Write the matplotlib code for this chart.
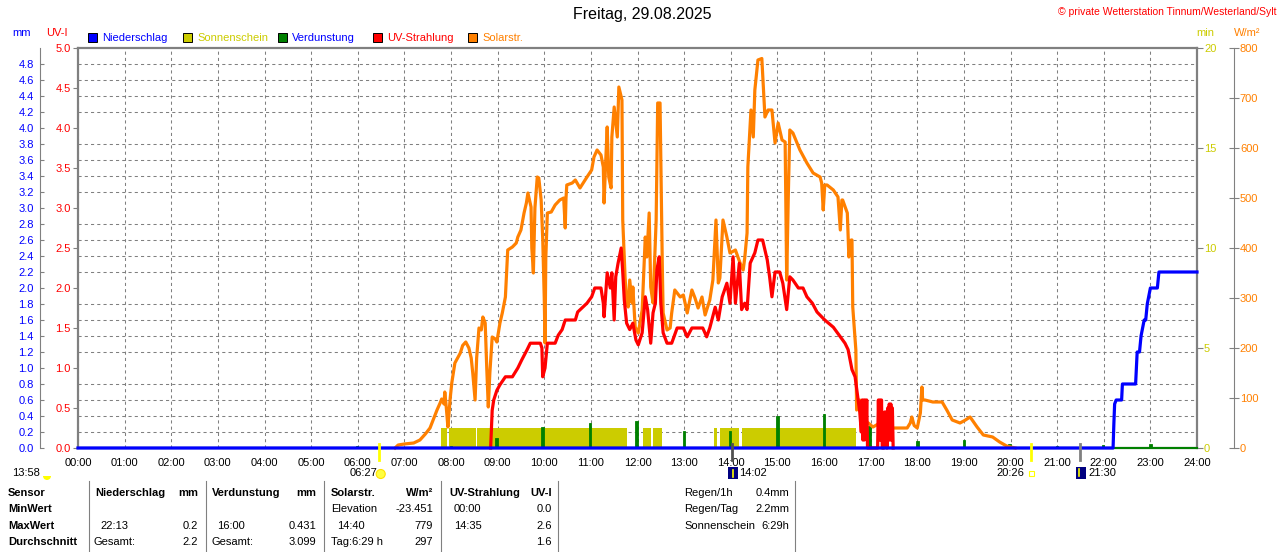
import matplotlib
matplotlib.use("Agg")
import matplotlib.pyplot as plt
import matplotlib.transforms as mtransforms
from matplotlib.patches import Rectangle, Circle, Wedge
from matplotlib.lines import Line2D
import numpy as np

plt.rcParams['font.family'] = ['Liberation Sans', 'DejaVu Sans']
plt.rcParams['font.size'] = 8

W, H = 1280, 552
X0, X1, Y0, Y1 = 78, 1197, 48, 448   # plot frame in pixels

GRAY = '#808080'
C_RAIN = '#0000ff'
C_SUN = '#cccc00'
C_EVAP = '#008000'
C_UV = '#ff0000'
C_SOL = '#ff8000'

# ---------------- data (time in minutes after midnight) ----------------
hour_ticks = list(range(25))
hour_labels = ['%02d:00' % h for h in hour_ticks]

# solar radiation W/m2
solar = [(408, 0), (412, 6), (420, 8), (432, 10), (440, 16), (447, 28), (453, 40), (458, 60),
         (462, 76), (466, 90), (468, 98), (471, 88), (472, 112), (474, 80), (476, 42), (479, 100),
         (481, 130), (485, 170), (492, 190), (495, 205), (499, 212), (503, 200), (506, 180),
         (508, 150), (511, 96), (513, 180), (516, 240), (519, 236), (521, 262), (524, 250),
         (526, 160), (528, 82), (530, 150), (533, 222), (537, 218), (539, 212), (543, 250),
         (546, 270), (550, 302), (553, 396), (559, 402), (564, 410), (566, 422), (570, 436),
         (574, 470), (577, 490), (579, 510), (583, 482), (584, 400), (586, 350), (587, 420),
         (588, 480), (591, 542), (593, 540), (596, 496), (598, 420), (600, 300), (601, 210),
         (602, 380), (604, 470), (609, 472), (614, 486), (620, 496), (625, 500), (627, 440),
         (628, 500), (629, 526), (636, 530), (640, 536), (646, 520), (655, 542), (661, 556),
         (664, 582), (668, 596), (673, 586), (676, 562), (677, 490), (679, 570), (681, 642),
         (683, 542), (686, 520), (687, 622), (690, 682), (694, 622), (696, 722), (700, 696),
         (701, 456), (704, 342), (706, 290), (708, 282), (710, 336), (713, 290), (714, 322),
         (717, 242), (721, 230), (726, 276), (730, 422), (732, 382), (735, 470), (737, 322),
         (740, 290), (744, 456), (746, 690), (749, 690), (752, 356), (753, 270), (758, 236),
         (762, 240), (764, 270), (768, 316), (775, 302), (779, 306), (784, 270), (790, 316),
         (794, 300), (798, 280), (803, 302), (807, 266), (813, 296), (817, 336), (821, 456),
         (824, 330), (826, 340), (830, 456), (835, 422), (839, 390), (846, 396), (852, 370),
         (856, 356), (858, 380), (861, 430), (862, 562), (866, 676), (869, 622), (871, 716),
         (875, 776), (880, 779), (884, 662), (888, 676), (893, 676), (897, 610), (901, 650),
         (906, 616), (910, 612), (911, 480), (912, 336), (914, 500), (916, 636), (920, 630),
         (929, 596), (938, 570), (946, 550), (955, 542), (957, 530), (959, 476), (961, 526),
         (964, 526), (972, 516), (978, 502), (981, 436), (983, 496), (984, 496), (990, 470),
         (992, 382), (995, 416), (996, 416), (997, 282), (1001, 196), (1002, 76), (1006, 96),
         (1010, 56), (1017, 50), (1023, 42), (1032, 50), (1041, 45), (1049, 40), (1067, 40),
         (1071, 50), (1073, 62), (1076, 45), (1080, 40), (1084, 70), (1086, 122), (1087, 96),
         (1090, 96), (1100, 92), (1112, 92), (1118, 76), (1125, 56), (1135, 50), (1141, 55),
         (1148, 62), (1157, 42), (1165, 26), (1177, 22), (1186, 12), (1195, 4), (1206, 0)]

# UV index
uv = [(531, 0), (533, 0.47), (535, 0.6), (539, 0.72), (543, 0.79), (550, 0.89), (559, 0.89),
      (566, 1.0), (571, 1.1), (578, 1.23), (582, 1.31), (595, 1.31), (597, 1.25), (598, 0.89),
      (601, 1.0), (604, 1.31), (614, 1.31), (618, 1.41), (623, 1.48), (627, 1.6), (640, 1.6),
      (643, 1.7), (655, 1.81), (661, 1.89), (665, 2.0), (673, 2.0), (676, 1.81), (677, 1.64),
      (681, 2.19), (685, 2.0), (687, 2.19), (690, 1.6), (692, 2.14), (695, 2.31), (699, 2.5),
      (701, 2.2), (703, 1.85), (706, 1.56), (710, 1.48), (714, 1.56), (718, 1.35), (721, 1.29),
      (726, 1.44), (730, 1.89), (733, 1.73), (737, 1.31), (740, 1.69), (743, 1.81), (745, 2.23),
      (748, 2.39), (750, 1.81), (753, 1.44), (758, 1.31), (764, 1.31), (771, 1.5), (779, 1.5),
      (784, 1.39), (790, 1.5), (804, 1.5), (809, 1.39), (813, 1.5), (820, 1.76), (824, 1.6),
      (829, 1.89), (835, 2.06), (839, 1.81), (843, 2.39), (846, 1.81), (851, 2.31), (854, 1.73),
      (858, 1.81), (861, 1.73), (865, 2.31), (871, 2.44), (875, 2.6), (881, 2.6), (887, 2.35),
      (890, 2.14), (893, 1.89), (897, 2.2), (903, 2.2), (907, 2.06), (912, 1.73), (916, 2.14),
      (920, 2.1), (927, 2.0), (933, 2.0), (938, 1.89), (945, 1.81), (951, 1.7), (961, 1.6),
      (972, 1.51), (981, 1.39), (987, 1.31), (991, 1.23), (996, 0.98), (1000, 0.89),
      (1004, 0.6), (1006, 0.45), (1008, 0.2), (1009, 0.6), (1010, 0.1), (1011, 0.6),
      (1012, 0.1), (1013, 0.6), (1014, 0.2), (1015, 0.6), (1016, 0), (1029, 0), (1030, 0.6),
      (1031, 0.1), (1032, 0.6), (1033, 0.1), (1034, 0.6), (1035, 0), (1037, 0), (1038, 0.45),
      (1039, 0.1), (1040, 0.45), (1041, 0), (1042, 0.5), (1043, 0.1), (1044, 0.55),
      (1045, 0.1), (1046, 0.55), (1047, 0.1), (1048, 0.5), (1049, 0)]

# cumulative rain mm
rain = [(0, 0), (1332, 0), (1333, 0.3), (1334, 0.55), (1336, 0.6), (1343, 0.6), (1344, 0.8),
        (1361, 0.8), (1362, 1.0), (1363, 1.2), (1366, 1.2), (1368, 1.4), (1372, 1.6),
        (1374, 1.6), (1376, 1.8), (1380, 2.0), (1389, 2.0), (1391, 2.2), (1440, 2.2)]

# evaporation mm
evap_min = [359, 480, 539, 598, 659, 719, 780, 839, 900, 960, 1019, 1080, 1140, 1199, 1260, 1319, 1380]
evap_mm = [0.02, 0.02, 0.12, 0.26, 0.31, 0.34, 0.21, 0.21, 0.40, 0.43, 0.27, 0.09, 0.10, 0.05, 0.02, 0.04, 0.05]

# sunshine (minutes of sun per minute)
sun_start = [467, 477, 513, 727, 740, 818, 826, 854]
sun_end = [475, 512, 706, 737, 752, 822, 851, 1001]
sun_level = 1

# sun / moon events
sunrise, sunset = '06:27', '20:26'
moonrise, moonset = '14:02', '21:30'
day_length = '13:58'


def hrs(hhmm):
    h, m = hhmm.split(':')
    return int(h) + int(m) / 60.0


def unzip(pts):
    t, v = zip(*pts)
    return np.array(t) / 60.0, np.array(v)


fig = plt.figure(figsize=(12.8, 5.52), dpi=100)
fig.patch.set_facecolor('white')
T = mtransforms.Affine2D().scale(1.0 / W, -1.0 / H).translate(0, 1) + fig.transFigure


def txt(x, y, s, **kw):
    kw.setdefault('va', 'center')
    fig.text(x, y, s, transform=T, **kw)


def px(h):
    return X0 + h * (X1 - X0) / 24.0


# ---------------- base axes (UV scale, grid) ----------------
ax = fig.add_axes([X0 / W, 1 - Y1 / H, (X1 - X0) / W, (Y1 - Y0) / H])
ax.set_xlim(0, 24)
ax.set_ylim(0, 5)
ax.set_xticks(hour_ticks)
ax.set_xticklabels(hour_labels)
ax.tick_params(axis='x', length=0, pad=7, labelsize=8)
uv_ticks = np.arange(0, 5.01, 0.5)
ax.set_yticks(uv_ticks)
ax.set_yticklabels(['%.1f' % v for v in uv_ticks])
ax.set_yticks(np.arange(0, 5.01, 0.2), minor=True)
ax.tick_params(axis='y', which='major', direction='out', length=3.6, width=0.8, color=GRAY,
               pad=1.5, labelcolor=C_UV, labelsize=8)
ax.tick_params(axis='y', which='minor', length=0)
ax.grid(which='major', axis='x', color=GRAY, lw=0.75, ls=(0, (3, 3)))
ax.grid(which='minor', axis='y', color=GRAY, lw=0.75, ls=(0, (3, 3)))
for s in ax.spines.values():
    s.set_color(GRAY)
    s.set_linewidth(1.6)

# sunshine (min scale, right frame)
ax_sun = ax.twinx()
ax_sun.set_ylim(0, 20)
ax_sun.set_yticks([0, 5, 10, 15, 20])
ax_sun.tick_params(axis='y', direction='out', length=4.3, width=0.8, color=GRAY, pad=0.8,
                   labelcolor=C_SUN, labelsize=8)
for s in ax_sun.spines.values():
    s.set_visible(False)
sh = np.array(sun_start) / 60.0
sw = (np.array(sun_end) - np.array(sun_start)) / 60.0
ax_sun.bar(sh, [sun_level] * len(sh), width=sw, align='edge', color=C_SUN, lw=0)

# evaporation (mm scale, outer left axis)
ax_mm = ax.twinx()
ax_mm.yaxis.tick_left()
ax_mm.set_ylim(0, 5)
mm_ticks = np.arange(0, 4.81, 0.2)
ax_mm.set_yticks(mm_ticks)
ax_mm.set_yticklabels(['%.1f' % v for v in mm_ticks])
ax_mm.tick_params(axis='y', direction='in', length=3, width=0.8, color=GRAY, pad=4.5,
                  labelcolor=C_RAIN, labelsize=8)
for k, s in ax_mm.spines.items():
    s.set_visible(k == 'left')
ax_mm.spines['left'].set_position(('axes', (40 - X0) / (X1 - X0)))
ax_mm.spines['left'].set_color(GRAY)
ax_mm.spines['left'].set_linewidth(0.8)
ax_mm.axhline(0, color=C_EVAP, lw=1.5, clip_on=False)
ax_mm.bar(np.array(evap_min) / 60.0, evap_mm, width=3.5 / 60.0, color=C_EVAP,
          edgecolor=C_EVAP, lw=0.6)

# solar radiation (W/m2, outer right axis)
ax_w = ax.twinx()
ax_w.set_ylim(0, 800)
ax_w.set_yticks(range(0, 801, 100))
ax_w.tick_params(axis='y', direction='inout', length=6.5, width=0.8, color=GRAY, pad=1,
                 labelcolor=C_SOL, labelsize=8)
for k, s in ax_w.spines.items():
    s.set_visible(k == 'right')
ax_w.spines['right'].set_position(('axes', (1234 - X0) / (X1 - X0)))
ax_w.spines['right'].set_color(GRAY)
ax_w.spines['right'].set_linewidth(0.8)
t, v = unzip(solar)
ax_w.plot(t, v, color=C_SOL, lw=2.3, clip_on=False)

# UV line
ax_uv = ax.twinx()
ax_uv.set_ylim(0, 5)
ax_uv.set_axis_off()
t, v = unzip(uv)
ax_uv.plot(t, v, color=C_UV, lw=2.3, clip_on=False)

# rain line
ax_rain = ax.twinx()
ax_rain.set_ylim(0, 5)
ax_rain.set_axis_off()
t, v = unzip(rain)
ax_rain.plot(t, v, color=C_RAIN, lw=2.3, clip_on=False)

# sun / moon event ticks on the time axis
xt = ax_rain.get_xaxis_transform()
for ev, col in [(sunrise, '#ffff00'), (sunset, '#ffff00'), (moonrise, '#505050'), (moonset, GRAY)]:
    ax_rain.plot([hrs(ev)] * 2, [-0.03, 0.01], transform=xt, color=col, lw=2, clip_on=False)

# ---------------- texts ----------------
txt(642, 15, 'Freitag, 29.08.2025', ha='center', fontsize=11.5)
txt(1277, 12, '\u00a9 private Wetterstation Tinnum/Westerland/Sylt', ha='right', color=C_UV,
    fontsize=7.5)
txt(22, 33, 'mm', ha='center', color=C_RAIN)
txt(57, 33, 'UV-I', ha='center', color=C_UV)
txt(1205, 33, 'min', ha='center', color=C_SUN)
txt(1247, 33, 'W/m\u00b2', ha='center', color=C_SOL)

legend = [('Niederschlag', C_RAIN, C_RAIN), ('Sonnenschein', C_SUN, C_SUN),
          ('Verdunstung', C_EVAP, C_RAIN), ('UV-Strahlung', C_UV, C_UV), ('Solarstr.', C_SOL, C_SOL)]
for i, (name, fc, tc) in enumerate(legend):
    x0 = 88 + 95 * i
    fig.add_artist(Rectangle((x0, 33), 9, 9, transform=T, facecolor=fc, edgecolor='black', lw=0.7))
    txt(x0 + 14, 38, name, ha='left', color=tc)

# event labels below the axis
txt(12, 473, day_length, ha='left')
fig.add_artist(Wedge((47, 476), 4, 0, 180, transform=T, facecolor='#ffff00', edgecolor='none'))
txt(px(hrs(sunrise)) - 1, 473, sunrise, ha='right')
fig.add_artist(Circle((px(hrs(sunrise)) + 2, 474), 4.5, transform=T, facecolor='#ffff40',
                      edgecolor='#ffe000', lw=0.8))
mx = px(hrs(moonrise))
fig.add_artist(Rectangle((mx - 4, 467), 10, 12, transform=T, facecolor='#000080', edgecolor='none'))
fig.add_artist(Line2D([mx + 1, mx + 1], [477, 470], transform=T, color='#ffff00', lw=1.2))
txt(mx + 7, 473, moonrise, ha='left')
sx = px(hrs(sunset))
txt(sx - 6, 473, sunset, ha='right')
fig.add_artist(Rectangle((sx - 2, 471), 5, 5, transform=T, facecolor='none', edgecolor='#ffff00', lw=0.8))
mx = px(hrs(moonset))
fig.add_artist(Rectangle((mx - 4, 467), 10, 12, transform=T, facecolor='#000080', edgecolor='none'))
fig.add_artist(Line2D([mx - 1, mx - 1], [469, 476], transform=T, color='#ffff00', lw=1.2))
txt(mx + 8, 473, moonset, ha='left')

# ---------------- summary table ----------------
rows_y = [493, 509, 526, 542]
for y, s in zip(rows_y, ['Sensor', 'MinWert', 'MaxWert', 'Durchschnitt']):
    txt(8, y, s, ha='left', fontweight='bold')
heads = [(95, 'Niederschlag', 198, 'mm'), (212, 'Verdunstung', 316, 'mm'),
         (331, 'Solarstr.', 433, 'W/m\u00b2'), (449, 'UV-Strahlung', 552, 'UV-I')]
for xl, name, xr, unit in heads:
    txt(xl, rows_y[0], name, ha='left', fontweight='bold')
    txt(xr, rows_y[0], unit, ha='right', fontweight='bold')

cells = [
    (1, 331, 'Elevation', 433, '-23.451'), (1, 454, '00:00', 552, '0.0'),
    (2, 100, '22:13', 198, '0.2'), (2, 217, '16:00', 316, '0.431'),
    (2, 337, '14:40', 433, '779'), (2, 454, '14:35', 552, '2.6'),
    (3, 94, 'Gesamt:', 198, '2.2'), (3, 212, 'Gesamt:', 316, '3.099'),
    (3, 331, 'Tag:6:29 h', 433, '297'), (3, 454, '', 552, '1.6'),
]
for r, xl, left, xr, right in cells:
    txt(xl, rows_y[r], left, ha='left')
    txt(xr, rows_y[r], right, ha='right')

extra = [('Regen/1h', '0.4mm'), ('Regen/Tag', '2.2mm'), ('Sonnenschein', '6:29h')]
for r, (a, b) in enumerate(extra):
    txt(684, rows_y[r], a, ha='left')
    txt(789, rows_y[r], b, ha='right')

for xs in [89, 206, 324, 441, 558, 795]:
    fig.add_artist(Line2D([xs, xs], [481, 552], transform=T, color=GRAY, lw=0.8))

fig.savefig('out.png', dpi=100)
